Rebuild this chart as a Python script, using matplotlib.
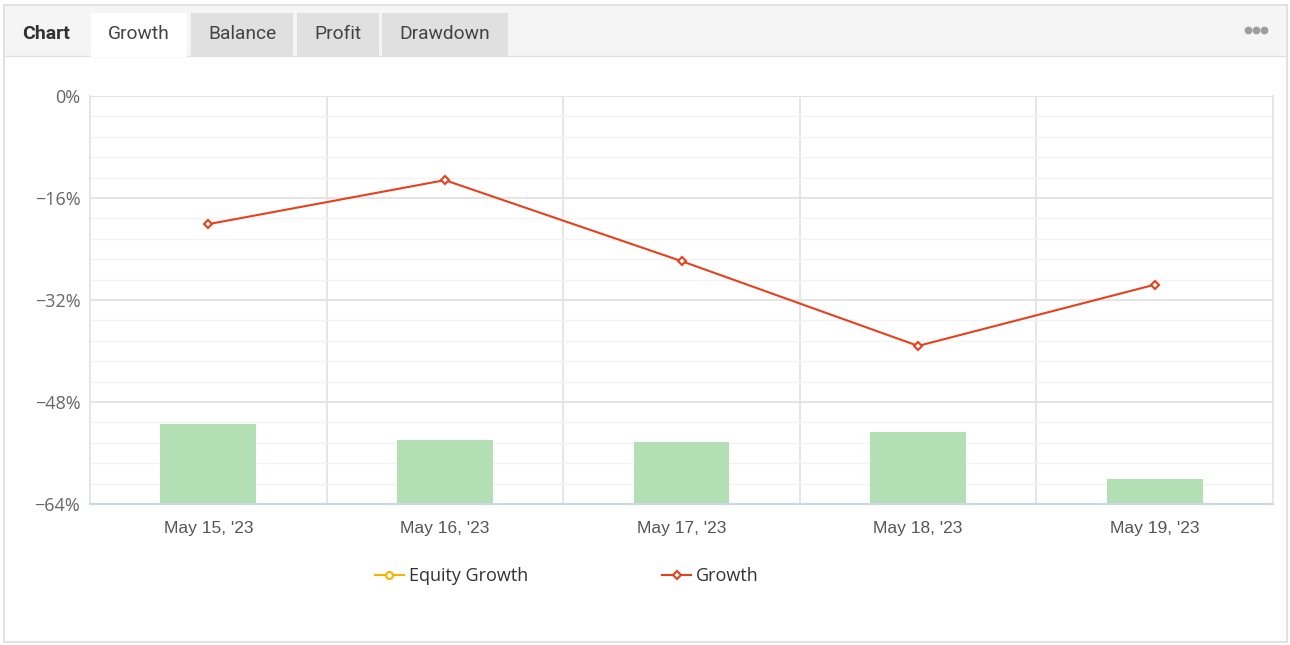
import numpy as np
import matplotlib.pyplot as plt
from matplotlib.patches import Rectangle
from matplotlib.lines import Line2D

W, H = 1290, 645

dates = ["May 15, '23", "May 16, '23", "May 17, '23", "May 18, '23", "May 19, '23"]
growth = [-20.1, -13.2, -25.9, -39.2, -29.6]
bar_tops = [-51.4, -54.0, -54.3, -52.7, -60.1]
y_ticks = [0, -16, -32, -48, -64]
tabs = ["Growth", "Balance", "Profit", "Drawdown"]

base = -64


def fx(px):
    return px / W


def fy(py):
    return 1 - py / H


fig = plt.figure(figsize=(W / 100, H / 100), dpi=100)
fig.patch.set_facecolor("white")

# outer panel frame and header strip
fig.patches.append(Rectangle((fx(4), fy(642)), fx(1287) - fx(4), fy(5) - fy(642),
                             transform=fig.transFigure, facecolor="white",
                             edgecolor="#dcdcdc", lw=1.2, zorder=0))
fig.patches.append(Rectangle((fx(5), fy(56)), fx(1286) - fx(5), fy(6) - fy(56),
                             transform=fig.transFigure, facecolor="#f5f5f5",
                             edgecolor="none", zorder=1))
fig.add_artist(Line2D([fx(5), fx(1286)], [fy(56), fy(56)], transform=fig.transFigure,
                      color="#e2e2e2", lw=1, zorder=2))

fig.text(fx(46), fy(34), "Chart", fontsize=14, fontweight="bold", family="Roboto",
         color="#333333", ha="center", va="center")
tab_x = [(91, 187), (191, 293), (297, 379), (382, 508)]
for i, (name, (x0, x1)) in enumerate(zip(tabs, tab_x)):
    fc = "white" if i == 0 else "#e0e0e0"
    fig.patches.append(Rectangle((fx(x0), fy(57)), fx(x1) - fx(x0), fy(13) - fy(57),
                                 transform=fig.transFigure, facecolor=fc,
                                 edgecolor="none", zorder=3))
    fig.text(fx((x0 + x1) / 2), fy(34), name, fontsize=13.8, family="Roboto",
             color="#444444", ha="center", va="center", zorder=4)
for dx in (1248, 1256, 1264):
    fig.add_artist(Line2D([fx(dx)], [fy(30)], transform=fig.transFigure, marker="o",
                          markersize=4.6, color="#9e9e9e", lw=0, zorder=4))

# plot area
ax = fig.add_axes([fx(90), fy(504), fx(1273) - fx(90), fy(96) - fy(504)])
ax.set_zorder(5)
ax.patch.set_alpha(0)
x = np.arange(len(dates))

ax.bar(x, np.array(bar_tops) - base, bottom=base, width=0.405, color="#b3dfb5",
       zorder=2)
ax.plot(x, growth, color="#e8401c", lw=1.5, marker="D", markersize=4.5,
        markerfacecolor="white", markeredgecolor="#e8401c", markeredgewidth=1.5,
        zorder=4)

ax.set_xlim(-0.5, len(dates) - 0.5)
ax.set_ylim(-64, 0)
ax.set_yticks(y_ticks)
ax.set_yticklabels(["0%" if v == 0 else f"\u2212{abs(v)}%" for v in y_ticks])
ax.set_yticks(np.arange(-64, 0.1, 3.2), minor=True)
ax.set_xticks(x)
ax.set_xticklabels(dates)
ax.set_xticks(np.arange(0.5, len(dates) - 1, 1), minor=True)

ax.grid(True, which="major", axis="y", color="#e4e4e4", lw=1.4, zorder=0)
ax.grid(True, which="minor", axis="y", color="#f3f3f3", lw=1, zorder=0)
ax.grid(True, which="minor", axis="x", color="#e6e6e6", lw=1.4, zorder=0)
ax.grid(False, which="major", axis="x")

for tl in ax.get_yticklabels():
    tl.set_family("Open Sans")
ax.tick_params(axis="y", which="both", length=0, labelsize=13, labelcolor="#666666",
               pad=7)
ax.tick_params(axis="x", which="both", length=0, labelsize=12.5, labelcolor="#555555",
               pad=12)
for tl in ax.get_xticklabels():
    tl.set_family("Liberation Sans")

for s in ("left", "right", "top"):
    ax.spines[s].set_color("#e6e6e6")
    ax.spines[s].set_linewidth(1.4)
ax.spines["top"].set_visible(False)
ax.spines["bottom"].set_color("#ccd6eb")
ax.spines["bottom"].set_linewidth(1.5)

handles = [
    Line2D([], [], color="#f7b500", lw=1.5, marker="o", markersize=5,
           markerfacecolor="white", markeredgecolor="#f7b500", markeredgewidth=1.5),
    Line2D([], [], color="#e8401c", lw=1.5, marker="D", markersize=4.5,
           markerfacecolor="white", markeredgecolor="#e8401c", markeredgewidth=1.5),
]
leg = fig.legend(handles, ["Equity Growth", "Growth"], loc="center",
                 bbox_to_anchor=(fx(567), fy(576)), ncol=2, frameon=False,
                 handlelength=1.6, handletextpad=0.3, columnspacing=7.4,
                 prop={"family": "Open Sans", "size": 13})
leg.set_zorder(6)
for t in leg.get_texts():
    t.set_color("#333333")

fig.savefig("out.png", dpi=100)
